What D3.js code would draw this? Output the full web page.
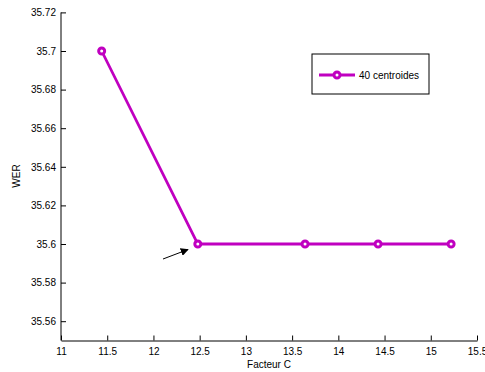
<!DOCTYPE html>
<html><head><meta charset="utf-8">
<script src="https://cdn.jsdelivr.net/npm/d3@7"></script>
<style>body{margin:0;background:#fff}svg{display:block}text{font-family:"Liberation Sans",Arial,sans-serif}</style>
</head><body>
<script>
const xValues = [11.44, 12.48, 13.64, 14.43, 15.22];
const werValues = [35.7, 35.6, 35.6, 35.6, 35.6];
const seriesName = "40 centroides";
const xTicks = [11, 11.5, 12, 12.5, 13, 13.5, 14, 14.5, 15, 15.5];
const yTicks = [35.56, 35.58, 35.6, 35.62, 35.64, 35.66, 35.68, 35.7, 35.72];

const W = 485, H = 372;
const color = "#c000c0";
const svg = d3.select("body").append("svg").attr("width", W).attr("height", H);
const x = d3.scaleLinear().domain([11, 15.5]).range([61, 477]);
const y = d3.scaleLinear().domain([35.55, 35.72]).range([340.5, 12.4]);

const xa = svg.append("g").attr("transform", "translate(0,340.5)")
  .call(d3.axisBottom(x).tickValues(xTicks).tickSizeInner(-5).tickSizeOuter(0).tickPadding(7).tickFormat(d3.format("")));
const ya = svg.append("g").attr("transform", "translate(61,0)")
  .call(d3.axisLeft(y).tickValues(yTicks).tickSizeInner(-5).tickSizeOuter(0).tickPadding(5).tickFormat(d3.format("")));
[xa, ya].forEach(a => {
  a.select(".domain").attr("stroke", "#000").attr("stroke-width", 1);
  a.selectAll("line").attr("stroke", "#000");
  a.selectAll("text").attr("font-size", 10).attr("fill", "#000");
});
ya.select(".domain").attr("d", `M0,${y(35.55)}V${y(35.72)}`);

svg.append("text").attr("x", 269).attr("y", 368).attr("text-anchor", "middle").attr("font-size", 10).text("Facteur C");
svg.append("text").attr("transform", "translate(20,176) rotate(-90)").attr("text-anchor", "middle").attr("font-size", 10).text("WER");

const line = d3.line().x((d, i) => x(xValues[i])).y(d => y(d));
svg.append("path").datum(werValues).attr("d", line).attr("fill", "none").attr("stroke", color).attr("stroke-width", 2.8);
svg.selectAll("circle.pt").data(werValues).enter().append("circle").attr("class", "pt")
  .attr("cx", (d, i) => x(xValues[i])).attr("cy", d => y(d)).attr("r", 3)
  .attr("fill", "#fff").attr("stroke", color).attr("stroke-width", 3);

svg.append("defs").append("marker").attr("id", "ah").attr("viewBox", "0 0 10 10").attr("refX", 9).attr("refY", 5)
  .attr("markerWidth", 8).attr("markerHeight", 8).attr("markerUnits", "userSpaceOnUse").attr("orient", "auto")
  .append("path").attr("d", "M0,0L10,5L0,10z").attr("fill", "#000");
svg.append("line").attr("x1", 163).attr("y1", 259).attr("x2", 188).attr("y2", 249.5)
  .attr("stroke", "#000").attr("stroke-width", 1).attr("marker-end", "url(#ah)");

const lg = svg.append("g");
lg.append("rect").attr("x", 312).attr("y", 54).attr("width", 117).attr("height", 40).attr("fill", "#fff").attr("stroke", "#000").attr("stroke-width", 1);
lg.append("line").attr("x1", 319).attr("x2", 355).attr("y1", 75).attr("y2", 75).attr("stroke", color).attr("stroke-width", 2.8);
lg.append("circle").attr("cx", 337).attr("cy", 75).attr("r", 3).attr("fill", "#fff").attr("stroke", color).attr("stroke-width", 3);
lg.append("text").attr("x", 359).attr("y", 79).attr("font-size", 10).text(seriesName);
</script>
</body></html>
